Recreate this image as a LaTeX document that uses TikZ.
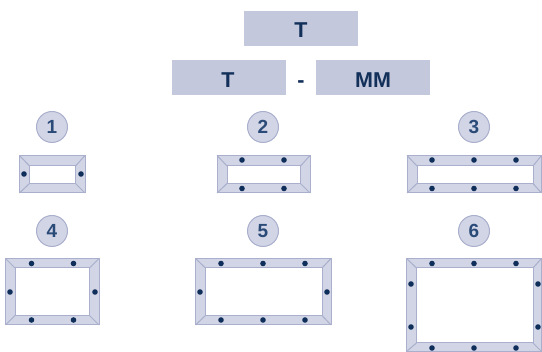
\documentclass[tikz,border=0pt]{standalone}
\usepackage{fontspec}
\setmainfont{Liberation Sans}
\definecolor{boxfill}{HTML}{C3C8DC}
\definecolor{framefill}{HTML}{D2D5E6}
\definecolor{framedraw}{HTML}{A9AFCC}
\definecolor{dotcol}{HTML}{0F2F5A}
\definecolor{numcol}{HTML}{2A4A78}
\definecolor{textcol}{HTML}{12305A}
\tikzset{
  header/.style={fill=boxfill,draw=none,minimum width=114pt,minimum height=35pt,inner sep=0pt,
    text=textcol,font=\fontsize{21.5}{21.5}\selectfont\bfseries,text depth=0pt,text height=19.6pt},
  sep/.style={text=textcol,font=\fontsize{21.5}{21.5}\selectfont\bfseries,inner sep=0pt},
  badge/.style={circle,fill=framefill,draw=framedraw,line width=1pt,minimum size=31pt,inner sep=0pt,
    text=numcol,font=\fontsize{19}{19}\selectfont\bfseries},
  framepart/.style={fill=framefill,draw=framedraw,line width=1pt,line join=miter},
  hole/.style={circle,fill=dotcol,draw=none,minimum size=5.6pt,inner sep=0pt}
}
% outer x0,y0,x1,y1 ; inner a0,b0,a1,b1
\newcommand{\frameshape}[8]{%
  \draw[framepart] (#1,#2) rectangle (#3,#4);
  \draw[framepart,fill=white] (#5,#6) rectangle (#7,#8);
  \draw[framepart,fill=none] (#1,#2) -- (#5,#6) (#3,#2) -- (#7,#6) (#1,#4) -- (#5,#8) (#3,#4) -- (#7,#8);
}
\newcommand{\holes}[1]{\foreach \hx/\hy in {#1} \node[hole] at (\hx,\hy) {};}
\begin{document}
\begin{tikzpicture}[x=1pt,y=-1pt]
\useasboundingbox (0,0) rectangle (542,352);
\node[header,text height=17.6pt] (top) at (301,28.5) {T};
\node[header] (left) at (229,77.5) {\hspace{-2pt}T};
\node[header] (right) at (373,77.5) {MM};
\node[sep] (dash) at (301,84) {-};
\node[badge] (b1) at (52,127) {1};
\node[badge] (b2) at (263,127) {2};
\node[badge] (b3) at (474,127) {3};
\node[badge] (b4) at (52,231) {4};
\node[badge] (b5) at (263,231) {5};
\node[badge] (b6) at (474,231) {6};
\frameshape{19.5}{155.5}{85}{193}{29.5}{166}{75.5}{183.5}
\holes{24/174,81/174}
\frameshape{217}{155.5}{310}{193}{227}{166}{300.5}{183.5}
\holes{242/160,284/160,242/188.5,284/188.5}
\frameshape{407}{155.5}{541.5}{193}{417}{166}{533}{183.5}
\holes{432/160,474/160,516/160,432/188.5,474/188.5,516/188.5}
\frameshape{5.5}{258.5}{99}{325}{15}{268}{89.5}{315.5}
\holes{31.5/263.5,73.5/263.5,31.5/320,73.5/320,10/292,95/292}
\frameshape{195.5}{258.5}{331}{325}{205.5}{268}{322}{315.5}
\holes{221/263.5,263/263.5,305/263.5,221/320,263/320,305/320,200/292,327/292}
\frameshape{406.5}{258.5}{541.5}{351.5}{416.5}{268}{533}{343}
\holes{432/263.5,474/263.5,516/263.5,432/348,474/348,516/348,411/284,411/327,538/284,538/327}
\end{tikzpicture}
\end{document}
